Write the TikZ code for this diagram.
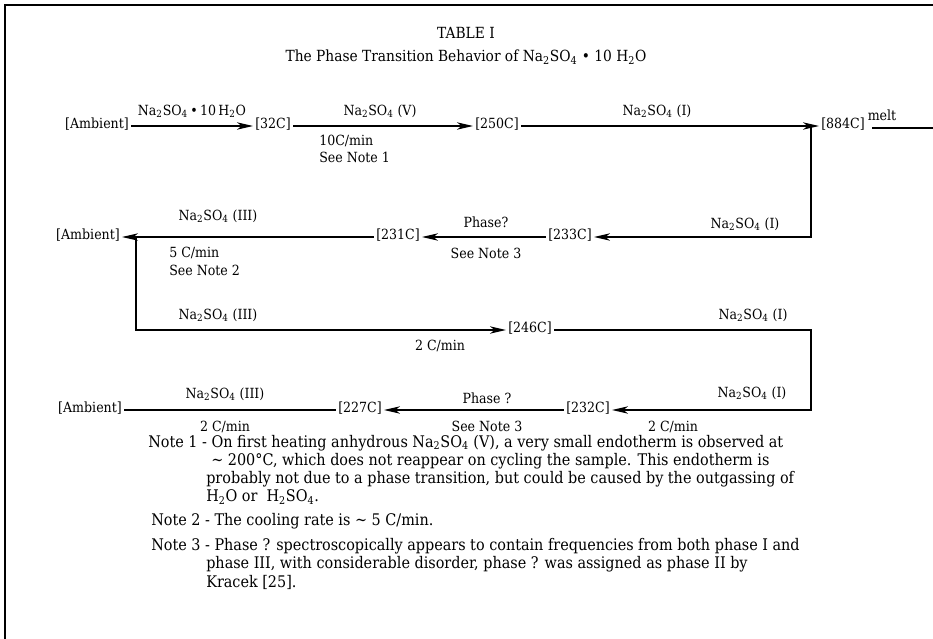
\documentclass[tikz,border=0pt]{standalone}
\usepackage{fontspec}
\setmainfont{DejaVu Serif Condensed}
\usepackage{tikz}
\usetikzlibrary{arrows.meta}

\newcommand{\nas}{Na\textsubscript{2}SO\textsubscript{4}}

\begin{document}
\begin{tikzpicture}[x=0.75pt,y=0.75pt,yscale=-1,xscale=1,
  every node/.style={font=\fontsize{10.5}{12}\selectfont},
  temp/.style={inner sep=1.5pt,text height=8pt,text depth=4.5pt},
  lbl/.style={inner sep=0.75pt},
  head/.style={font=\fontsize{11.5}{13}\selectfont},
  note/.style={anchor=west,inner sep=0.75pt,font=\fontsize{12}{14}\selectfont},
  flow/.style={line width=0.8pt,-{Stealth[length=12pt,width=5.5pt,inset=3.5pt]}},
  bare/.style={line width=0.8pt}]
\useasboundingbox (0,0) rectangle (933,639);

%Shape: Frame
\draw[line width=1pt] (5,639) -- (5,5) -- (933,5);

% Text Node
\node[head] (title) at (466,33) {TABLE I};
% Text Node
\node[head] (subtitle) at (466,57) {The Phase Transition Behavior of \nas\ \textbullet\ 10 H\textsubscript{2}O};

% Row 1 : heating
\node[temp] (amb1) at (97,126) {[Ambient]};
\node[temp] (t32) at (273,126) {[32C]};
\node[temp] (t250) at (497,126) {[250C]};
\node[temp] (t884) at (843,126) {[884C]};
\coordinate (c1) at (811,126);
\coordinate (meltend) at (933,128);

\draw[flow] (amb1) -- (t32);
\draw[flow] (t32) -- (t250);
\draw[flow] (t250) -- (t884);
\draw[bare] (t884.east |- meltend) ++(5,0) -- (meltend);

\node[lbl] (l11) at (192,111) {\nas\,\textbullet\,10\,H\textsubscript{2}O};
\node[lbl] (l12) at (380,111) {\nas\ (V)};
\node[lbl,anchor=west] (r12) at (318,141) {10C/min};
\node[lbl,anchor=west] (n12) at (318,157) {See Note 1};
\node[lbl] (l13) at (657,111) {\nas\ (I)};
\node[lbl] (lmelt) at (882,115) {melt};

% Row 2 : cooling
\node[temp] (amb2) at (88,237) {[Ambient]};
\node[temp] (t231) at (398,237) {[231C]};
\node[temp] (t233) at (570,237) {[233C]};
\coordinate (c2) at (136,237);

\draw[flow,line width=1.1pt] (c1) |- (t233);
\draw[flow] (t233) -- (t231);
\draw[flow] (t231) -- (amb2);

\node[lbl] (l21) at (745,224) {\nas\ (I)};
\node[lbl] (l22) at (486,222) {Phase?};
\node[lbl] (n22) at (486,253) {See Note 3};
\node[lbl] (l23) at (218,216) {\nas\ (III)};
\node[lbl,anchor=west] (r23) at (168,253) {5 C/min};
\node[lbl,anchor=west] (n23) at (168,270) {See Note 2};

% Row 3 : heating again
\node[temp] (t246) at (530,330) {[246C]};
\coordinate (c3) at (811,330);

\draw[flow,line width=1.1pt] (c2) |- (t246);
\node[lbl] (l31) at (218,315) {\nas\ (III)};
\node[lbl] (r31) at (440,346) {2 C/min};
\node[lbl] (l32) at (753,315) {\nas\ (I)};

% Row 4 : cooling again
\node[temp] (amb3) at (90,410) {[Ambient]};
\node[temp] (t227) at (360,410) {[227C]};
\node[temp] (t232) at (588,410) {[232C]};

\draw[flow,line width=1.1pt] (t246) -- (c3) |- (t232);
\draw[flow] (t232) -- (t227);
\draw[bare] (amb3) -- (t227);

\node[lbl] (l41) at (752,393) {\nas\ (I)};
\node[lbl] (r41) at (673,427) {2 C/min};
\node[lbl] (l42) at (487,398) {Phase ?};
\node[lbl] (n42) at (487,426) {See Note 3};
\node[lbl] (l43) at (225,394) {\nas\ (III)};
\node[lbl] (r43) at (225,427) {2 C/min};

% Notes
\node[note] (note1) at (147,443) {Note 1 - On first heating anhydrous \nas\ (V), a very small endotherm is observed at};
\node[note] (note1b) at (210,461) {∼ 200°C, which does not reappear on cycling the sample. This endotherm is};
\node[note] (note1c) at (205,479) {probably not due to a phase transition, but could be caused by the outgassing of};
\node[note] (note1d) at (205,497) {H\textsubscript{2}O or\ \ H\textsubscript{2}SO\textsubscript{4}.};
\node[note] (note2) at (150,521) {Note 2 - The cooling rate is ∼ 5 C/min.};
\node[note] (note3) at (150,546) {Note 3 - Phase ? spectroscopically appears to contain frequencies from both phase I and};
\node[note] (note3b) at (205,564) {phase III, with considerable disorder, phase ? was assigned as phase II by};
\node[note] (note3c) at (205,582) {Kracek [25].};

\end{tikzpicture}
\end{document}
